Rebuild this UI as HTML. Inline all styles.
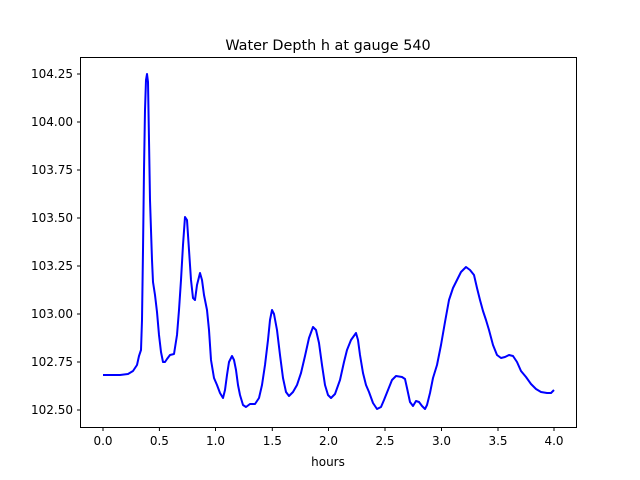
<!DOCTYPE html>
<html><head><style>body{margin:0;background:#fff}svg{display:block}text{font-family:"DejaVu Sans","Liberation Sans",sans-serif;font-size:12px;fill:#000}</style></head><body>
<svg width="640" height="480" viewBox="0 0 640 480">
<rect width="640" height="480" fill="#fff"/>
<text x="328" y="50" text-anchor="middle" style="font-size:14.4px">Water Depth h at gauge 540</text>
<polyline fill="none" stroke="#0000ff" stroke-width="2" stroke-linejoin="round" points="103,375 120,375 128,374 133,371 137,365 139,356 141,350 142,320 143,250 144,170 145,110 146,80 147,74 148,82 149,140 150,200 152,260 153,282 155,295 157,312 159,335 161,352 163,362 165,362 167,359 170,355 174,354 177,335 179,310 181,280 183,245 185,217 187,220 189,250 191,280 193,298 195,300 197,285 200,273 202,280 204,295 207,310 209,330 211,360 214,378 217,385 220,393 223,398 225,390 227,375 229,362 232,356 234,360 236,370 238,385 240,395 243,405 246,407 250,404 255,404 259,398 262,385 265,365 268,340 270,320 272,310 274,314 277,330 280,355 283,378 286,392 289,396 293,392 297,385 301,373 305,356 309,338 313,327 316,330 319,343 322,365 325,385 328,395 331,398 335,394 340,380 344,362 347,350 351,340 356,333 358,340 360,355 363,373 366,385 369,392 373,403 377,409 381,407 384,400 388,390 392,380 396,376 402,377 405,379 407,388 410,402 413,406 416,401 419,402 422,406 425,409 427,405 430,393 433,378 437,365 441,345 445,322 449,300 453,288 457,280 461,272 466,267 470,270 474,275 477,288 480,300 483,311 486,320 489,330 493,345 497,355 501,358 505,357 509,355 513,356 517,362 521,371 526,377 531,384 536,389 541,392 547,393 551,393 554,390"/>
<rect x="80.5" y="57.5" width="496" height="370" fill="none" stroke="#000" stroke-width="1"/>
<g stroke="#000" stroke-width="1">
<line x1="103" y1="428" x2="103" y2="431"/><line x1="159.4" y1="428" x2="159.4" y2="431"/><line x1="215.5" y1="428" x2="215.5" y2="431"/><line x1="272.3" y1="428" x2="272.3" y2="431"/><line x1="328.5" y1="428" x2="328.5" y2="431"/><line x1="385" y1="428" x2="385" y2="431"/><line x1="441.5" y1="428" x2="441.5" y2="431"/><line x1="498" y1="428" x2="498" y2="431"/><line x1="554" y1="428" x2="554" y2="431"/>
<line x1="77" y1="74" x2="80" y2="74"/><line x1="77" y1="122" x2="80" y2="122"/><line x1="77" y1="170" x2="80" y2="170"/><line x1="77" y1="218" x2="80" y2="218"/><line x1="77" y1="266" x2="80" y2="266"/><line x1="77" y1="314" x2="80" y2="314"/><line x1="77" y1="362" x2="80" y2="362"/><line x1="77" y1="410" x2="80" y2="410"/>
</g>
<g text-anchor="middle">
<text x="103" y="445">0.0</text><text x="159.4" y="445">0.5</text><text x="215.5" y="445">1.0</text><text x="272.3" y="445">1.5</text><text x="328.5" y="445">2.0</text><text x="385" y="445">2.5</text><text x="441.5" y="445">3.0</text><text x="498" y="445">3.5</text><text x="554" y="445">4.0</text>
<text x="328" y="466">hours</text>
</g>
<g text-anchor="end">
<text x="73" y="78">104.25</text><text x="73" y="126">104.00</text><text x="73" y="174">103.75</text><text x="73" y="222">103.50</text><text x="73" y="270">103.25</text><text x="73" y="318">103.00</text><text x="73" y="366">102.75</text><text x="73" y="414">102.50</text>
</g>
</svg>
</body></html>
